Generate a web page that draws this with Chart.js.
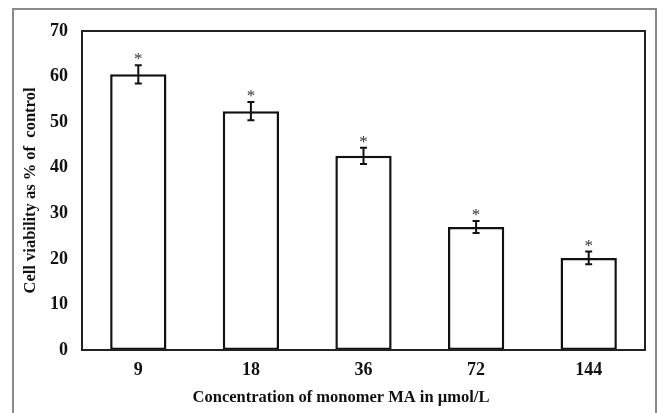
<!DOCTYPE html>
<html>
<head>
<meta charset="utf-8">
<script src="https://cdn.jsdelivr.net/npm/chart.js@4.4.1/dist/chart.umd.min.js"></script>
<style>
  html, body { margin: 0; padding: 0; background: #fff; overflow: hidden; }
  #wrap { position: relative; width: 661px; height: 413px; }
  #frame { position: absolute; left: 12px; top: 8px; width: 645px; height: 440px;
           border: 2px solid #8a8a8a; box-sizing: border-box; pointer-events: none; }
  canvas { position: absolute; left: 0; top: 0; }
</style>
</head>
<body>
<div id="wrap">
  <canvas id="chart" width="661" height="413"></canvas>
  <div id="frame"></div>
</div>
<script>
// dados
const concentrations = ['9', '18', '36', '72', '144'];
const viability = [60.5, 52.4, 42.6, 27.0, 20.2];
const errors = [2.0, 2.0, 1.8, 1.3, 1.4];
const significance = ['*', '*', '*', '*', '*'];
const yTicks = [0, 10, 20, 30, 40, 50, 60, 70];
const xTitle = 'Concentration of monomer MA in µmol/L';

const serif = "'Liberation Serif', 'Times New Roman', serif";

// Barras de erro + asteriscos
const errorBarPlugin = {
    id: 'errorBars',
    afterDatasetsDraw(chart) {
        const ctx = chart.ctx;
        const y = chart.scales.y;
        const meta = chart.getDatasetMeta(0);
        ctx.save();
        ctx.strokeStyle = '#111';
        ctx.lineWidth = 2;
        meta.data.forEach((bar, i) => {
            const x = bar.x;
            const top = y.getPixelForValue(viability[i] + errors[i]);
            const bottom = y.getPixelForValue(viability[i] - errors[i]);
            ctx.beginPath();
            ctx.moveTo(x, top);
            ctx.lineTo(x, bottom);
            ctx.moveTo(x - 3.5, top);
            ctx.lineTo(x + 3.5, top);
            ctx.moveTo(x - 3.5, bottom);
            ctx.lineTo(x + 3.5, bottom);
            ctx.stroke();

            ctx.fillStyle = '#333';
            ctx.font = '17px ' + serif;
            ctx.textAlign = 'center';
            ctx.textBaseline = 'alphabetic';
            ctx.fillText(significance[i], x, top - 1);
        });
        ctx.restore();
    }
};

// Caixa à volta da área do gráfico + título do eixo x
const plotBoxPlugin = {
    id: 'plotBox',
    afterDraw(chart) {
        const a = chart.chartArea;
        const ctx = chart.ctx;
        ctx.save();
        ctx.strokeStyle = '#222';
        ctx.lineWidth = 2;
        ctx.strokeRect(a.left, a.top, a.right - a.left, a.bottom - a.top);

        ctx.fillStyle = '#111';
        ctx.font = 'bold 16.5px ' + serif;
        ctx.textAlign = 'center';
        ctx.textBaseline = 'middle';
        ctx.fillText(xTitle, 341, 398);
        ctx.restore();
    }
};

new Chart(document.getElementById('chart').getContext('2d'), {
    type: 'bar',
    data: {
        labels: concentrations,
        datasets: [{
            data: viability,
            backgroundColor: '#ffffff',
            borderColor: '#111111',
            borderWidth: 2.5,
            borderSkipped: false,
            categoryPercentage: 1,
            barPercentage: 0.5
        }]
    },
    options: {
        responsive: false,
        animation: false,
        layout: { padding: { left: 0, top: 31, right: 16, bottom: 0 } },
        plugins: {
            legend: { display: false },
            tooltip: { enabled: false }
        },
        scales: {
            y: {
                min: 0,
                max: 70,
                afterFit: scale => { scale.width = 82; },
                afterBuildTicks: scale => { scale.ticks = yTicks.map(v => ({ value: v })); },
                grid: { display: false, drawTicks: false },
                border: { display: false },
                ticks: {
                    padding: 14,
                    color: '#111',
                    font: { family: serif, size: 18, weight: 'bold' }
                },
                title: {
                    display: true,
                    text: 'Cell viability as % of  control',
                    color: '#111',
                    padding: { top: 21, bottom: 0 },
                    font: { family: serif, size: 16.5, weight: 'bold' }
                }
            },
            x: {
                afterFit: scale => { scale.height = 63; },
                grid: { display: false, drawTicks: false },
                border: { display: false },
                ticks: {
                    padding: 10,
                    color: '#111',
                    font: { family: serif, size: 18, weight: 'bold' }
                }
            }
        }
    },
    plugins: [errorBarPlugin, plotBoxPlugin]
});
</script>
</body>
</html>
